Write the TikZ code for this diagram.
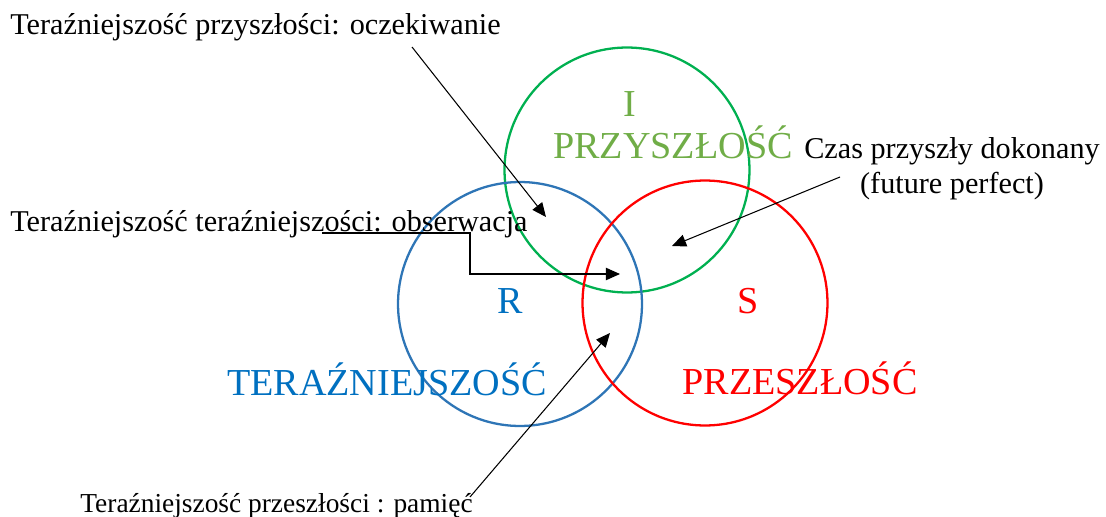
\documentclass[tikz,border=0pt]{standalone}
\usepackage{fontspec}
\setmainfont{Liberation Serif}
\usetikzlibrary{arrows.meta}
\definecolor{futline}{HTML}{00B050}
\definecolor{futtext}{HTML}{70AD47}
\definecolor{presline}{HTML}{2E75B6}
\definecolor{prestext}{HTML}{0070C0}
\definecolor{pastred}{HTML}{FF0000}
\begin{document}
\begin{tikzpicture}[x=0.02cm,y=-0.02cm,
    lbl/.style={inner sep=0pt,font=\fontsize{17.2}{19.9}\selectfont},
    big/.style={inner sep=0pt,font=\fontsize{21.7}{24}\selectfont},
    ptr/.style={line width=0.6pt,-{Triangle[length=8pt,width=7pt]}}]
    \useasboundingbox (0,0) rectangle (1106,517);
    \coordinate (i) at (627,170);
    \coordinate (r) at (520,304);
    \coordinate (s) at (705,303);
    \draw[line width=1.3pt,futline] (i) circle (2.45cm);
    \draw[line width=1.3pt,presline] (r) circle (2.44cm);
    \draw[line width=1.3pt,pastred] (s) circle (2.45cm);
    % circle labels
    \node[big,text=futtext,anchor=base] (ilab) at (630,117) {I};
    \node[big,text=futtext,anchor=base] (fut) at (673,158) {PRZYSZŁOŚĆ};
    \node[big,text=prestext,anchor=base] (rlab) at (510,313) {R};
    \node[big,text=prestext,anchor=base] (pres) at (387,395) {TERAŹNIEJSZOŚĆ};
    \node[big,text=pastred,anchor=base] (slab) at (748,313) {S};
    \node[big,text=pastred,anchor=base] (past) at (800,394) {PRZESZŁOŚĆ};
    % descriptions
    \node[lbl,anchor=base west] (expect) at (10,35) {Teraźniejszość przyszłości: oczekiwanie};
    \node[lbl,anchor=base west] (observ) at (10,232) {Teraźniejszość teraźniejszości: obserwacja};
    \node[lbl,font=\fontsize{15.6}{18}\selectfont,anchor=base west] (memory) at (80,512) {Teraźniejszość przeszłości : pamięć};
    \node[lbl,align=center,anchor=north] (futperf) at (952,137) {Czas przyszły dokonany\\(future perfect)};
    % pointers
    \coordinate (expectA) at (412,47);
    \coordinate (expectB) at (546,217);
    \coordinate (observA) at (322,233);
    \coordinate (observC) at (470,233);
    \coordinate (observB) at (620,274);
    \coordinate (futperfA) at (840,177);
    \coordinate (futperfB) at (672,246);
    \coordinate (memoryA) at (470,497);
    \coordinate (memoryB) at (610,333);
    \draw[ptr] (expectA) -- (expectB);
    \draw[ptr] (observA) -- (observC) |- (observB);
    \draw[ptr] (futperfA) -- (futperfB);
    \draw[ptr] (memoryA) -- (memoryB);
\end{tikzpicture}
\end{document}
